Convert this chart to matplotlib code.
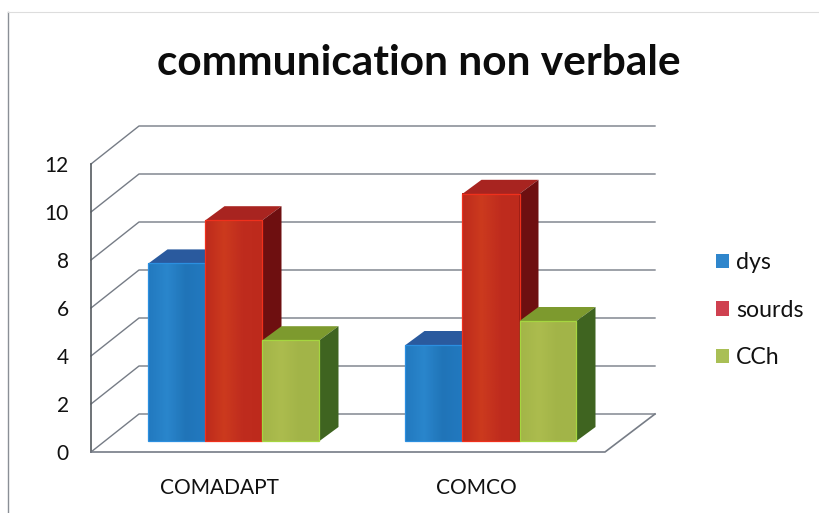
import numpy as np
import matplotlib
matplotlib.use("Agg")
import matplotlib.pyplot as plt
from matplotlib.patches import Polygon, Patch
from matplotlib.lines import Line2D
from matplotlib.transforms import IdentityTransform
from matplotlib.colors import LinearSegmentedColormap

categories = ["COMADAPT", "COMCO"]
series = ["dys", "sourds", "CCh"]
dys = [7.4, 4.0]
sourds = [9.2, 10.3]
cch = [4.2, 5.0]
yticks = [0, 2, 4, 6, 8, 10, 12]
title = "communication non verbale"

W, H = 820, 513
FONT = "Lato"
plt.rcParams["font.family"] = [FONT, "DejaVu Sans"]
fig = plt.figure(figsize=(W / 100, H / 100), dpi=100, facecolor="white")

X0, X1, Y0, Y1 = 91, 605, 452, 164
ax = fig.add_axes([X0 / W, 1 - Y0 / H, (X1 - X0) / W, (Y0 - Y1) / H])
ax.set_xlim(0, 2)
ax.set_ylim(0, 12)
ax.patch.set_visible(False)
for s in ax.spines.values():
    s.set_visible(False)
ax.set_xticks([0.5, 1.5], categories, fontsize=15, color="#111111")
ax.set_yticks(yticks, [str(v) for v in yticks], fontsize=15, color="#111111")
ax.tick_params(length=0)
ax.tick_params(axis="y", pad=16)
ax.tick_params(axis="x", pad=19)

fig.canvas.draw()
GRID = "#767c86"
IDENT = IdentityTransform()


def P(xd, yd, dx=0.0, dy=0.0):
    px, py = ax.transData.transform((xd, yd))
    return (px + dx, py + dy)


def line(points, lw=1.0, color=GRID, z=1):
    xs, ys = zip(*points)
    ax.add_line(Line2D(xs, ys, transform=IDENT, color=color, lw=lw, clip_on=False, zorder=z))


WX, WY = 48, 38
for v in range(0, 13, 2):
    line([P(0, v), P(0, v, WX, WY), P(2, v, 50, WY)])
line([P(0, 0), P(0, 12)], lw=1.2, color="#555b60")
line([P(0, 0), P(2, 0), P(2, 0, 50, WY)], lw=1.2)

OFF_X, OFF_Y = 14.5, 11
DX, DY = 19, 14
BW = 57 / 257
palette = [
    ("#2279bf", "#2a86cc", "#2074b8", "#2a5a9e", "#17406e"),
    ("#bd2a1c", "#cc3a1e", "#bf2c1e", "#a82420", "#6e0f10"),
    ("#a3b548", "#acbc4e", "#a2b448", "#7d9a2e", "#3f6420"),
]
legend_cols = ["#2f86cc", "#cf4150", "#a9bf55"]
edge = ["#2b8fe0", "#f0301c", "#a6d640"]
data = [dys, sourds, cch]

for k, vals in enumerate(data):
    for c, v in enumerate(vals):
        xl = c + 0.5 + (k - 1.5) * BW
        xr = xl + BW
        c0, c1, c2, top, side = palette[k]
        z = 5 + k + c * 10
        cm = LinearSegmentedColormap.from_list("f", [c0, c1, c2, c0])
        a, b = P(xl, 0, OFF_X, OFF_Y), P(xr, v, OFF_X, OFF_Y)
        grad = np.linspace(0, 1, 64)[None, :]
        ax.imshow(grad, cmap=cm, extent=(a[0], b[0], a[1], b[1]), transform=IDENT,
                  aspect="auto", zorder=z, clip_on=False, interpolation="bilinear")
        ax.add_patch(Polygon([a, (a[0], b[1]), b, (b[0], a[1])], closed=True, transform=IDENT,
                             fill=False, ec=edge[k], lw=0.9, zorder=z + 0.1, clip_on=False))
        ax.add_patch(Polygon([(a[0], b[1]), (b[0], b[1]), (b[0] + DX, b[1] + DY), (a[0] + DX, b[1] + DY)],
                             closed=True, transform=IDENT, fc=top, ec="none", zorder=z, clip_on=False))
        ax.add_patch(Polygon([(b[0], a[1]), (b[0] + DX, a[1] + DY), (b[0] + DX, b[1] + DY), b],
                             closed=True, transform=IDENT, fc=side, ec="none", zorder=z, clip_on=False))
ax.set_xlim(0, 2)
ax.set_ylim(0, 12)

fig.text(419 / W, 1 - 63 / H, title, ha="center", va="center", fontsize=30.5, fontweight="bold", color="#0c0c0c")

handles = [Patch(fc=col, ec="none") for col in legend_cols]
fig.legend(handles, series, loc="upper left", bbox_to_anchor=(700 / W, 1 - 236 / H), frameon=False,
           fontsize=16.7, handlelength=0.56, handleheight=0.56, handletextpad=0.3,
           labelspacing=1.14, borderpad=0.2, labelcolor="#111111")

# scan frame of the pasted chart
fig.add_artist(Line2D([8 / W, 8 / W], [0, 1 - 12 / H], color="#8a8f96", lw=1.0))
fig.add_artist(Line2D([8 / W, 1], [1 - 12 / H, 1 - 12 / H], color="#dddddd", lw=0.8))

fig.savefig("out.png", dpi=100)
